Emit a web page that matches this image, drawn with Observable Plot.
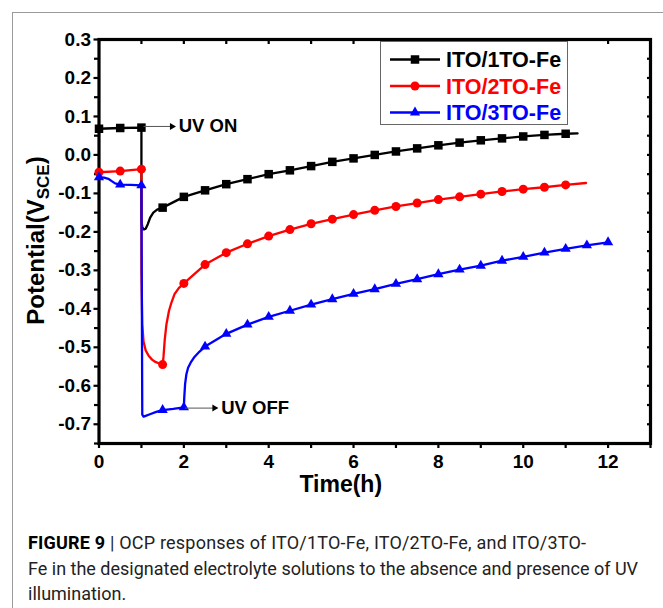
<!DOCTYPE html>
<html><head><meta charset="utf-8">
<script src="https://cdn.jsdelivr.net/npm/d3@7"></script>
<script src="https://cdn.jsdelivr.net/npm/@observablehq/plot@0.6"></script>
<style>
body{margin:0;background:#fff;}
#page{position:relative;width:663px;height:608px;overflow:hidden;background:#fff;}
#border{position:absolute;left:12px;top:12px;width:652px;height:700px;border:1.5px solid #9a9a9a;box-sizing:border-box;}
#chart{position:absolute;left:0;top:0;}
#legend{position:absolute;left:380px;top:41px;width:188px;height:84px;border:1px solid #666;box-sizing:border-box;background:#fff;}
#caption{position:absolute;left:28px;top:530px;font-family:Roboto,"Liberation Sans",sans-serif;font-size:18px;line-height:25.5px;color:#222;white-space:nowrap;}
#caption b{color:#000;}
#caption .l1{letter-spacing:0.2px;}
</style>
</head><body>
<div id="page">
<div id="border"></div>
<div id="chart"></div>
<div id="legend"></div>
<div id="caption"><span class="l1"><b>FIGURE 9</b> | OCP responses of ITO/1TO-Fe, ITO/2TO-Fe, and ITO/3TO-</span><br>Fe in the designated electrolyte solutions to the absence and presence of UV<br>illumination.</div>
</div>
<script>
// ---- series meta ----
const seriesNames = ["ITO/1TO-Fe", "ITO/2TO-Fe", "ITO/3TO-Fe"];
const seriesColors = ["#000000", "#ff0000", "#0000ff"];
const seriesSymbols = ["square", "circle", "triangle"];

// ---- ITO/1TO-Fe (black) trace ----
const blackTime = [0, 0.5, 1.0, 1.0, 1.02, 1.06, 1.1, 1.15, 1.21, 1.28, 1.37, 1.5, 2, 2.5, 3, 3.5, 4, 4.5, 5, 5.5, 6, 6.5, 7, 7.5, 8, 8.5, 9, 9.5, 10, 10.5, 11, 11.28];
const blackPot  = [0.068, 0.070, 0.071, -0.170, -0.188, -0.194, -0.192, -0.180, -0.162, -0.150, -0.142, -0.137, -0.109, -0.092, -0.076, -0.063, -0.050, -0.040, -0.029, -0.018, -0.009, 0.000, 0.009, 0.017, 0.025, 0.032, 0.038, 0.043, 0.048, 0.052, 0.055, 0.056];
const blackMarkTime = [0, 0.5, 1.0, 1.5, 2, 2.5, 3, 3.5, 4, 4.5, 5, 5.5, 6, 6.5, 7, 7.5, 8, 8.5, 9, 9.5, 10, 10.5, 11];
const blackMarkPot  = [0.068, 0.070, 0.071, -0.137, -0.109, -0.092, -0.076, -0.063, -0.050, -0.040, -0.029, -0.018, -0.009, 0.000, 0.009, 0.017, 0.025, 0.032, 0.038, 0.043, 0.048, 0.052, 0.055];

// ---- ITO/2TO-Fe (red) trace ----
const redTime = [0, 0.5, 1.0, 1.0, 1.02, 1.05, 1.1, 1.17, 1.25, 1.33, 1.42, 1.5, 1.52, 1.55, 1.59, 1.65, 1.71, 1.78, 1.88, 2.0, 2.5, 3, 3.5, 4, 4.5, 5, 5.5, 6, 6.5, 7, 7.5, 8, 8.5, 9, 9.5, 10, 10.5, 11, 11.48];
const redPot  = [-0.045, -0.042, -0.037, -0.300, -0.440, -0.485, -0.508, -0.522, -0.532, -0.538, -0.542, -0.545, -0.525, -0.480, -0.440, -0.405, -0.383, -0.362, -0.346, -0.334, -0.285, -0.254, -0.231, -0.211, -0.194, -0.179, -0.167, -0.155, -0.144, -0.134, -0.125, -0.116, -0.109, -0.102, -0.095, -0.089, -0.084, -0.078, -0.073];
const redMarkTime = [0, 0.5, 1.0, 1.5, 2, 2.5, 3, 3.5, 4, 4.5, 5, 5.5, 6, 6.5, 7, 7.5, 8, 8.5, 9, 9.5, 10, 10.5, 11];
const redMarkPot  = [-0.045, -0.042, -0.037, -0.545, -0.334, -0.285, -0.254, -0.231, -0.211, -0.194, -0.179, -0.167, -0.155, -0.144, -0.134, -0.125, -0.116, -0.109, -0.102, -0.095, -0.089, -0.084, -0.078];

// ---- ITO/3TO-Fe (blue) trace ----
const blueTime = [0, 0.12, 0.22, 0.3, 0.38, 0.5, 0.75, 1.0, 1.02, 1.05, 1.1, 1.2, 1.35, 1.5, 1.75, 2.0, 2.01, 2.03, 2.06, 2.1, 2.16, 2.25, 2.37, 2.5, 3, 3.5, 4, 4.5, 5, 5.5, 6, 6.5, 7, 7.5, 8, 8.5, 9, 9.5, 10, 10.5, 11, 11.5, 12];
const bluePot  = [-0.058, -0.059, -0.062, -0.068, -0.074, -0.077, -0.078, -0.079, -0.675, -0.680, -0.678, -0.674, -0.668, -0.663, -0.660, -0.656, -0.630, -0.595, -0.570, -0.553, -0.540, -0.525, -0.511, -0.498, -0.465, -0.441, -0.421, -0.405, -0.389, -0.375, -0.361, -0.349, -0.335, -0.323, -0.310, -0.298, -0.288, -0.275, -0.265, -0.254, -0.244, -0.235, -0.227];
const blueMarkTime = [0, 0.5, 1.0, 1.5, 2, 2.5, 3, 3.5, 4, 4.5, 5, 5.5, 6, 6.5, 7, 7.5, 8, 8.5, 9, 9.5, 10, 10.5, 11, 11.5, 12];
const blueMarkPot  = [-0.058, -0.077, -0.079, -0.663, -0.656, -0.498, -0.465, -0.441, -0.421, -0.405, -0.389, -0.375, -0.361, -0.349, -0.335, -0.323, -0.310, -0.298, -0.288, -0.275, -0.265, -0.254, -0.244, -0.235, -0.227];

// ---- annotations ----
const annLabels = ["UV ON", "UV OFF"];
const annArrowStart = [1.05, 2.03];
const annArrowEnd = [1.72, 2.72];
const annLevel = [0.074, -0.658];
const annTextTime = [1.88, 2.88];

// ---- ticks ----
const xTickValues = [0, 2, 4, 6, 8, 10, 12];
const xMinorTicks = [1, 3, 5, 7, 9, 11, 13];
const xTopTicks = [0, 1, 2, 3, 4, 5, 6, 7, 8, 9, 10, 11, 12, 13];
const yTickValues = [-0.7, -0.6, -0.5, -0.4, -0.3, -0.2, -0.1, 0.0, 0.1, 0.2, 0.3];
const yMinorTicks = [-0.75, -0.65, -0.55, -0.45, -0.35, -0.25, -0.15, -0.05, 0.05, 0.15, 0.25];
const xLabel = "Time(h)";
const yLabel = "Potential(VSCE)";

const toRows = (ts, vs) => ts.map((t, i) => ({t, v: vs[i]}));
const traces = [toRows(blackTime, blackPot), toRows(redTime, redPot), toRows(blueTime, bluePot)];
const markers = [toRows(blackMarkTime, blackMarkPot), toRows(redMarkTime, redMarkPot), toRows(blueMarkTime, blueMarkPot)];
const markerR = [4.8, 4.5, 3.8];
const ann = annLabels.map((s, i) => ({label: s, x1: annArrowStart[i], x2: annArrowEnd[i], y: annLevel[i], tx: annTextTime[i]}));

const font = "'Liberation Sans', Arial, sans-serif";
const seriesMarks = [];
traces.forEach((tr, i) => {
  seriesMarks.push(Plot.line(tr, {x: "t", y: "v", stroke: seriesColors[i], strokeWidth: 2.3, strokeLinejoin: "round"}));
  seriesMarks.push(Plot.dot(markers[i], {x: "t", y: "v", symbol: seriesSymbols[i], r: markerR[i], fill: seriesColors[i], stroke: null}));
});

const plot = Plot.plot({
  width: 663, height: 500,
  marginLeft: 98.5, marginRight: 13, marginTop: 39, marginBottom: 57,
  x: {domain: [0, 13]},
  y: {domain: [-0.75, 0.3]},
  style: {fontFamily: font, fontWeight: "bold", color: "#000", background: "transparent", overflow: "visible"},
  marks: [
    Plot.axisY({ticks: yTickValues, tickSize: 5, tickPadding: 3, tickFormat: d => d.toFixed(1), fontSize: 19, fontWeight: "bold", strokeWidth: 2.2, label: null}),
    Plot.axisY({ticks: yMinorTicks, tickSize: 4.5, tickFormat: () => "", strokeWidth: 2.2, label: null}),
    Plot.axisY({anchor: "right", ticks: [...yTickValues, ...yMinorTicks], tickSize: 4, dx: -4, tickFormat: () => "", strokeWidth: 2.2, label: null}),
    Plot.axisX({ticks: xTickValues, tickSize: 5, tickPadding: 6, fontSize: 19, fontWeight: "bold", strokeWidth: 2.2, label: null}),
    Plot.axisX({ticks: xMinorTicks, tickSize: 5, tickFormat: () => "", strokeWidth: 2.2, label: null}),
    Plot.axisX({anchor: "top", ticks: xTopTicks, tickSize: 4, dy: 4, tickFormat: () => "", strokeWidth: 2.2, label: null}),
    Plot.frame({stroke: "#000", strokeWidth: 3.2}),
    ...seriesMarks,
    Plot.link(ann, {x1: "x1", y1: "y", x2: "x2", y2: "y", stroke: "#555", strokeWidth: 1}),
    Plot.dot(ann, {x: "x2", y: "y", symbol: "triangle", rotate: 90, r: 2.6, fill: "#000", stroke: null}),
    Plot.text(ann, {x: "tx", y: "y", text: "label", textAnchor: "start", fontSize: 18.5, fontWeight: "bold", fill: "#000"}),
    Plot.text([xLabel], {text: d => d, frameAnchor: "bottom", textAnchor: "middle", dx: -34, dy: 41, fontSize: 23, fontWeight: "bold", lineAnchor: "middle", fill: "#000"}),
    Plot.text([yLabel], {text: d => d, frameAnchor: "left", textAnchor: "middle", dx: -63, dy: -1, rotate: -90, fontSize: 24, fontWeight: "bold", lineAnchor: "middle", fill: "#000"})
  ]
});
document.getElementById("chart").appendChild(plot);

// subscript in y label
d3.select(plot).selectAll("text").filter(function() { return this.textContent === yLabel; }).each(function() {
  const t = d3.select(this);
  t.text(null);
  t.append("tspan").text("Potential(V");
  t.append("tspan").attr("font-size", 17).attr("dy", 5).text("SCE");
  t.append("tspan").attr("dy", -5).text(")");
});

// legend
const lg = d3.select("#legend").append("svg").attr("width", 186).attr("height", 82)
  .style("font-family", font).style("font-weight", "bold").style("font-size", "21.5px");
const rowY = [17.5, 44, 70.5];
seriesNames.forEach((name, i) => {
  const g = lg.append("g").attr("transform", `translate(0,${rowY[i]})`);
  g.append("line").attr("x1", 9).attr("x2", 59).attr("stroke", seriesColors[i]).attr("stroke-width", 2.3);
  g.append("path").attr("transform", "translate(34,0)")
    .attr("d", d3.symbol(seriesSymbols[i] === "square" ? d3.symbolSquare : seriesSymbols[i] === "circle" ? d3.symbolCircle : d3.symbolTriangle, Math.PI * markerR[i] * markerR[i])())
    .attr("fill", seriesColors[i]);
  g.append("text").attr("x", 65).attr("dy", "0.36em").attr("fill", seriesColors[i]).text(name);
});
</script>
</body></html>
